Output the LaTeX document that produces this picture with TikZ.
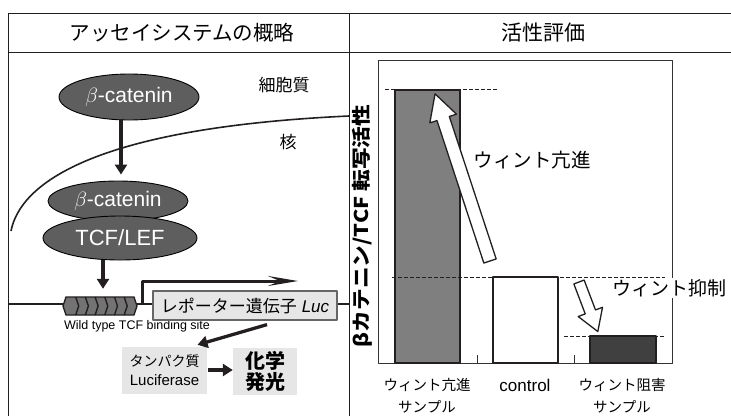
\documentclass[tikz,border=0pt]{standalone}
\usepackage{fontspec}
\setmainfont{Liberation Sans}
\newfontfamily\jp{Noto Sans CJK JP}
\usetikzlibrary{arrows.meta,shapes.geometric,calc}
\newcommand\myfs[1]{\fontsize{#1}{#1}\selectfont}
\definecolor{ink}{HTML}{231F20}
\definecolor{boxgray}{HTML}{E6E6E6}
\definecolor{ellgray}{HTML}{5E5E5E}
\definecolor{barA}{HTML}{7F7F7F}
\definecolor{barC}{HTML}{404040}
\begin{document}
\begin{tikzpicture}[x=1pt,y=-1pt,line join=round,
  tbl/.style={line width=0.9pt,draw=ink},
  arr/.style={line width=3.3pt,draw=ink,-{Triangle[width=12pt,length=10pt]}},
  ell/.style={ellipse,draw=black,line width=0.9pt,fill=ellgray,text=white,inner sep=0pt},
  gbox/.style={fill=boxgray,inner sep=0pt,align=center},
  jt/.style={font={\jp\myfs{#1}},inner sep=1pt},
  fat/.style={draw=ink,line width=1.3pt,fill=white},
  barline/.style={draw=ink,line width=1.8pt},
  dashline/.style={draw=ink,line width=0.9pt,dash pattern=on 4pt off 2pt}]
\useasboundingbox (0,0) rectangle (731,416);
\clip (0,0) rectangle (731,416);
% table
\draw[tbl] (8,13) -- (731,13);
\draw[tbl] (8,52) -- (731,52);
\draw[tbl] (8,13) -- (8,416);
\draw[tbl] (349,13) -- (349,416);
\node[jt=20.5] (h1) at (182,33) {アッセイシステムの概略};
\node[jt=21] (h2) at (543,33) {活性評価};
% left panel
\node[jt=17] (cyto) at (284,85) {細胞質};
\node[jt=17] (nuc) at (288,142) {核};
\draw[line width=1.6pt,ink] (11,231) .. controls (20,185) and (90,128) .. (349,116);
\node[ell,minimum width=140pt,minimum height=46pt,font=\myfs{21}] (bc1) at (129,97) {$\beta$-catenin};
\node[ell,minimum width=140pt,minimum height=40pt,font=\myfs{21}] (bc2) at (118,201) {$\beta$-catenin};
\node[ell,minimum width=154pt,minimum height=44pt,font=\myfs{22}] (tcf) at (120,238) {TCF/LEF};
\draw[arr] ([xshift=-8pt]bc1.south) -- ([xshift=-8pt,yshift=6pt]bc1.south |- bc2.north);
% DNA
\draw[line width=1.5pt,ink] (8,304) -- (349,304);
\node[minimum width=74pt,minimum height=18pt,inner sep=0pt] (site) at (100,306) {};
\fill[black!55,draw=ink,line width=1.4pt] (63,306) -- (66,297) -- (134,297) -- (137,306) -- (134,315) -- (66,315) -- cycle;
\foreach \i in {1,...,6}{
  \draw[ink,line width=1.4pt] ({66+\i*9.7},297) -- ({69+\i*9.7},306) -- ({66+\i*9.7},315);
}
\draw[arr] ([xshift=-17pt]tcf.south) -- ([xshift=-17pt,yshift=8pt]tcf.south |- site.north);
\node[font=\myfs{12.5},inner sep=0pt] (wt) at (137,326) {Wild type TCF binding site};
\node[gbox,draw=black!60,line width=1.2pt,minimum width=184pt,minimum height=29pt] (rep) at (245,305.5) {{\jp\myfs{17}レポーター遺伝子}\hspace{5pt}{\myfs{17}\itshape Luc}};
\coordinate (tss) at (142,304);
\coordinate (tsend) at (298,281);
\draw[line width=3pt,ink,-{Stealth[length=30pt,width=10pt,inset=12pt]}] (tss) |- (tsend);
\node[gbox,minimum width=85pt,minimum height=47pt,font={\jp\fontsize{14}{19}\selectfont}] (prot) at (164.5,370.5) {タンパク質\\{\rmfamily\myfs{15}Luciferase}};
\node[gbox,minimum width=64pt,minimum height=47pt,font={\jp\bfseries\fontsize{20}{21}\selectfont}] (chem) at (265,371.5) {化学\\発光};
\draw[arr] ([xshift=22pt,yshift=-4pt]rep.south) -- ([xshift=33pt,yshift=2pt]prot.north);
\draw[arr] ([xshift=1pt]prot.east |- 0,370) -- (chem.west |- 0,370);
% right panel
\draw[line width=0.9pt,draw=black!80] (378,60) rectangle (672,363);
\draw[line width=0.9pt,draw=black!80] (477,363) -- (477,355) (574,363) -- (574,355);
\filldraw[barline,fill=barA] (395,90) rectangle (460,363);
\filldraw[barline,fill=white] (493,277) rectangle (558,363);
\filldraw[barline,fill=barC] (590,336) rectangle (656,363);
\draw[dashline] (385,89) -- (498,89);
\draw[dashline] (392,277) -- (665,277);
\draw[dashline] (564,336) -- (665,336);
\begin{scope}[shift={(490,261)},rotate=108.2]
\draw[fat] (0,-6.5) -- (150,-6.5) -- (150,-14) -- (176,0) -- (150,14) -- (150,6.5) -- (0,6.5) -- cycle;
\end{scope}
\begin{scope}[shift={(579,282)},rotate=-69.2]
\draw[fat] (0,-5.5) -- (32,-5.5) -- (32,-13) -- (53,0) -- (32,13) -- (32,5.5) -- (0,5.5) -- cycle;
\end{scope}
\node[jt=19.5] (up) at (532,160) {ウィント亢進};
\node[jt=19,fill=white,anchor=west,inner sep=1.5pt] (down) at (611,288) {ウィント抑制};
\node[rotate=90,font={\jp\bfseries\myfs{19}},inner sep=0pt] (ylab) at (362,226) {\scalebox{1.14}[1]{βカテニン/TCF 転写活性}};
\node[align=center,font={\jp\fontsize{14.5}{22}\selectfont},inner sep=0pt] (l1) at (427,396) {ウィント亢進\\サンプル};
\node[font=\myfs{17},inner sep=0pt] (l2) at (525,385) {control};
\node[align=center,font={\jp\fontsize{14.5}{22}\selectfont},inner sep=0pt] (l3) at (622,396) {ウィント阻害\\サンプル};
\end{tikzpicture}
\end{document}
